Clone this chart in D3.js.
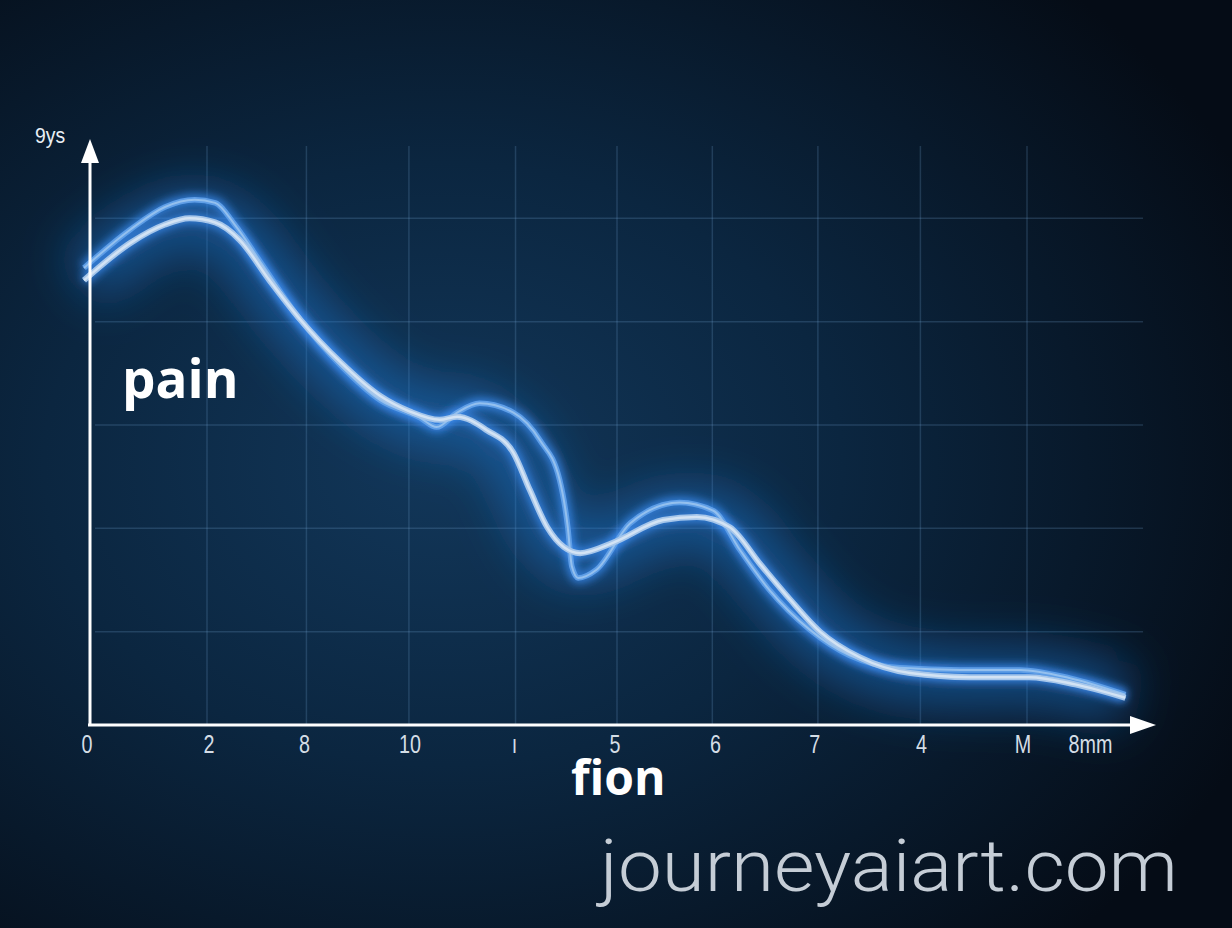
<!DOCTYPE html>
<html>
<head>
<meta charset="utf-8">
<script src="https://cdn.jsdelivr.net/npm/d3@7"></script>
<style>
  html, body { margin: 0; padding: 0; background: #07121f; }
  svg { display: block; }
</style>
</head>
<body>
<script>
// x tick labels (as printed) and where they sit on the x scale
var tickLabels = ["0", "2", "8", "10", "ı", "5", "6", "7", "4", "M", "8mm"];
var tickPos = [-0.17, 1.02, 1.95, 2.98, 4.0, 4.98, 5.96, 6.93, 7.97, 8.96, 9.62];

// grid lines
var gridX = [1, 1.97, 2.97, 4.01, 5.0, 5.93, 6.96, 7.96, 9.0];
var gridY = [1, 2, 3, 4, 5];

// blue curve (higher peak, sharp dip)
var blueX = [-0.20, 0.25, 0.59, 0.88, 1.08, 1.27, 1.52, 1.91, 2.30, 2.69, 3.08, 3.24, 3.44, 3.66, 3.99, 4.25, 4.44, 4.52, 4.56, 4.62, 4.80, 5.13, 5.61, 5.94, 6.20, 6.49, 6.88, 7.27, 7.76, 8.35, 8.93, 9.42, 9.96];
var blueY = [4.52, 4.89, 5.11, 5.18, 5.15, 4.94, 4.58, 4.02, 3.58, 3.24, 3.07, 2.98, 3.12, 3.21, 3.12, 2.85, 2.47, 2.01, 1.63, 1.52, 1.60, 2.05, 2.25, 2.17, 1.79, 1.40, 1.02, 0.77, 0.65, 0.63, 0.63, 0.55, 0.39];

// pale curve
var paleX = [-0.20, 0.25, 0.59, 0.83, 1.08, 1.32, 1.61, 1.91, 2.30, 2.69, 2.98, 3.27, 3.44, 3.73, 3.99, 4.15, 4.32, 4.48, 4.64, 4.96, 5.45, 5.78, 6.10, 6.40, 6.69, 6.98, 7.37, 7.86, 8.44, 9.02, 9.47, 9.96];
var paleY = [4.40, 4.76, 4.94, 5.00, 4.96, 4.79, 4.40, 4.02, 3.61, 3.28, 3.13, 3.05, 3.08, 2.95, 2.73, 2.37, 2.01, 1.82, 1.76, 1.86, 2.08, 2.11, 2.01, 1.65, 1.31, 1.00, 0.75, 0.60, 0.56, 0.56, 0.49, 0.36];

var W = 1232, H = 928;
var x = d3.scaleLinear().domain([0, 10]).range([104.5, 1129.5]);
var y = d3.scaleLinear().domain([0, 6]).range([735, 115]);

var svg = d3.select("body").append("svg").attr("width", W).attr("height", H);
var defs = svg.append("defs");

var bg = defs.append("radialGradient").attr("id", "bg")
  .attr("cx", "36%").attr("cy", "50%").attr("r", "72%");
bg.append("stop").attr("offset", "0%").attr("stop-color", "#12375a");
bg.append("stop").attr("offset", "45%").attr("stop-color", "#0b2640");
bg.append("stop").attr("offset", "100%").attr("stop-color", "#050c16");

var wide = defs.append("filter").attr("id", "wide")
  .attr("x", "-20%").attr("y", "-40%").attr("width", "140%").attr("height", "180%");
wide.append("feGaussianBlur").attr("stdDeviation", 24);

var soft = defs.append("filter").attr("id", "soft")
  .attr("x", "-10%").attr("y", "-20%").attr("width", "120%").attr("height", "140%");
soft.append("feGaussianBlur").attr("stdDeviation", 4);

svg.append("rect").attr("width", W).attr("height", H).attr("fill", "url(#bg)");

// grid
var grid = svg.append("g").attr("stroke", "rgba(120,170,215,0.22)").attr("stroke-width", 1.5);
grid.selectAll("line.v").data(gridX).enter().append("line")
  .attr("class", "v")
  .attr("x1", function(d) { return x(d); })
  .attr("x2", function(d) { return x(d); })
  .attr("y1", 146).attr("y2", 725);
grid.selectAll("line.h").data(gridY).enter().append("line")
  .attr("class", "h")
  .attr("x1", 95).attr("x2", 1143)
  .attr("y1", function(d) { return y(d); })
  .attr("y2", function(d) { return y(d); });

function pts(xs, ys) {
  return xs.map(function(d, i) { return [d, ys[i]]; });
}
var line = d3.line()
  .x(function(d) { return x(d[0]); })
  .y(function(d) { return y(d[1]); })
  .curve(d3.curveMonotoneX);

var blue = pts(blueX, blueY), pale = pts(paleX, paleY);

// big halo behind the curves
svg.append("path").attr("d", line(pale))
  .attr("fill", "none").attr("stroke", "#2479d6").attr("stroke-opacity", 0.5)
  .attr("stroke-width", 60).attr("filter", "url(#wide)");

// glow lines
[blue, pale].forEach(function(p) {
  svg.append("path").attr("d", line(p))
    .attr("fill", "none").attr("stroke", "#3f8ff5").attr("stroke-opacity", 0.75)
    .attr("stroke-width", 11).attr("filter", "url(#soft)");
});

svg.append("path").attr("d", line(blue))
  .attr("fill", "none").attr("stroke", "#5f9ee6").attr("stroke-width", 5.5);
svg.append("path").attr("d", line(blue))
  .attr("fill", "none").attr("stroke", "#94c0ee").attr("stroke-width", 2);

svg.append("path").attr("d", line(pale))
  .attr("fill", "none").attr("stroke", "#a6c6ea").attr("stroke-width", 6);
svg.append("path").attr("d", line(pale))
  .attr("fill", "none").attr("stroke", "#d3e3f4").attr("stroke-width", 2.5);

// axes with arrow heads
var axes = svg.append("g").attr("fill", "#ffffff");
axes.append("line").attr("x1", 90).attr("x2", 90).attr("y1", 726).attr("y2", 158)
  .attr("stroke", "#ffffff").attr("stroke-width", 3);
axes.append("path").attr("d", "M90,139 L99,163 L81,163 Z");
axes.append("line").attr("x1", 88).attr("x2", 1135).attr("y1", 725).attr("y2", 725)
  .attr("stroke", "#ffffff").attr("stroke-width", 3);
axes.append("path").attr("d", "M1156,725 L1130,716 L1130,734 Z");

// x tick labels, narrowed to look like the condensed face in the picture
svg.append("g").selectAll("text").data(tickLabels).enter().append("text")
  .attr("transform", function(d, i) { return "translate(" + x(tickPos[i]) + ",753) scale(0.76,1)"; })
  .attr("text-anchor", "middle")
  .attr("fill", "#d4dde6")
  .style("font-family", "'Liberation Sans', Arial, sans-serif")
  .style("font-size", "26px")
  .text(function(d) { return d; });

svg.append("text")
  .attr("transform", "translate(35,143) scale(0.88,1)")
  .attr("fill", "#e8eef4")
  .style("font-family", "'Liberation Sans', Arial, sans-serif")
  .style("font-size", "22px")
  .text("9ys");

svg.append("text").attr("x", 122).attr("y", 398)
  .attr("fill", "#ffffff")
  .style("font-family", "'Open Sans', sans-serif").style("font-weight", 700)
  .style("font-size", "53px")
  .text("pain");

svg.append("text").attr("x", 571).attr("y", 795)
  .attr("fill", "#ffffff")
  .style("font-family", "'Open Sans', sans-serif").style("font-weight", 700)
  .style("font-size", "48px")
  .text("fion");

svg.append("text").attr("x", 600).attr("y", 891)
  .attr("fill", "#c5cdd6")
  .attr("textLength", 578).attr("lengthAdjust", "spacingAndGlyphs")
  .style("font-family", "Roboto, 'Open Sans', sans-serif").style("font-weight", 300)
  .style("font-size", "72px")
  .text("journeyaiart.com");
</script>
</body>
</html>
